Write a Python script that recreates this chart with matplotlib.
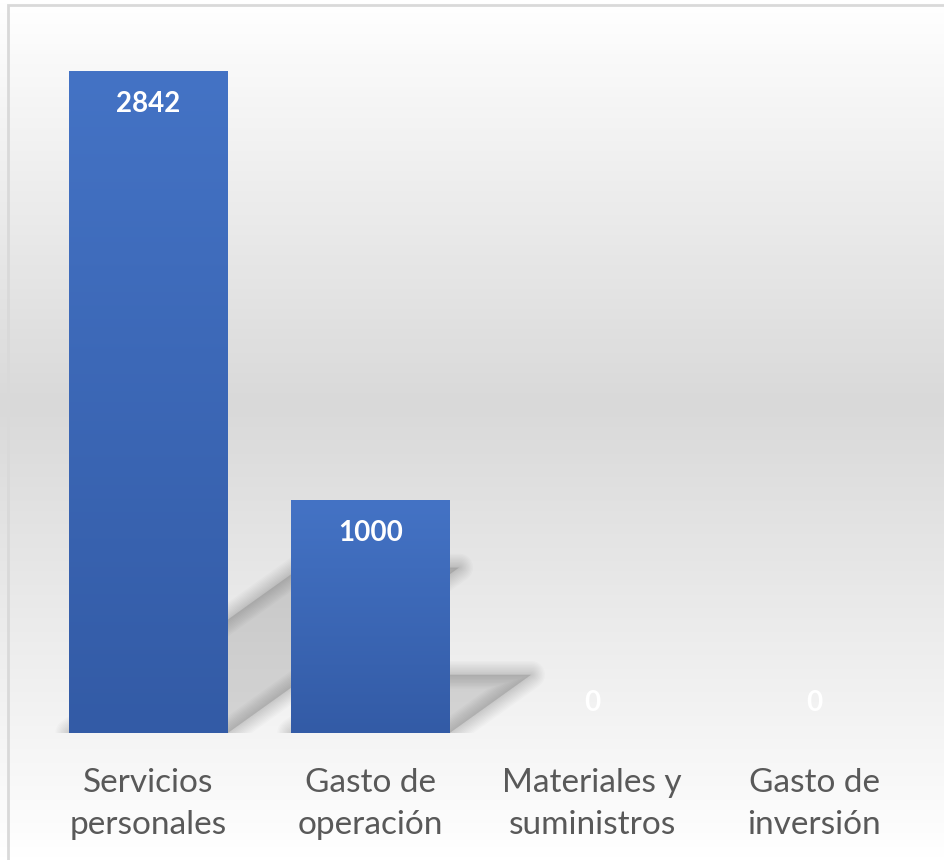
import numpy as np
import matplotlib.pyplot as plt
from matplotlib.colors import LinearSegmentedColormap
from matplotlib.patches import Polygon, Rectangle

categories = ["Servicios\npersonales", "Gasto de\noperación", "Materiales y\nsuministros", "Gasto de\ninversión"]
values = [2842, 1000, 0, 0]

plt.rcParams['font.family'] = ['Lato', 'DejaVu Sans']

W, H, DPI = 945, 860, 100
fig = plt.figure(figsize=(W / DPI, H / DPI), dpi=DPI)

# background: white -> light gray -> white
bg = fig.add_axes([0, 0, 1, 1], zorder=-10)
bg_cmap = LinearSegmentedColormap.from_list("bg", [(0, "#ffffff"), (0.47, "#d9d9d9"), (1, "#ffffff")])
bg.imshow(np.linspace(0, 1, 256).reshape(-1, 1), cmap=bg_cmap, aspect='auto', extent=[0, 1, 0, 1])
bg.axis('off')
fig.patches.append(Rectangle((8 / W, -0.05), 1.1, (H - 5) / H + 0.05, transform=fig.transFigure,
                             fill=False, ec="#d9d9d9", lw=2, zorder=-5))

ax = fig.add_axes([37.6 / W, 127 / H, 887.4 / W, 698.7 / H])
ax.patch.set_alpha(0)
x = np.arange(len(values))
width = 0.715

# perspective shadows, blurred by stacking soft strokes
for xi, v in zip(x, values):
    if v <= 0:
        continue
    dx = v * 3.67e-4
    dy = v * 0.25
    pts = [(xi - width / 2, 0), (xi + width / 2, 0), (xi + width / 2 + dx, dy), (xi - width / 2 + dx, dy)]
    ax.add_patch(Polygon(pts, closed=True, fc="black", ec="none", alpha=0.13, zorder=1))
    for lw in np.arange(2, 22, 2):
        ax.add_patch(Polygon(pts, closed=True, fc="none", ec="black", lw=lw, alpha=0.014,
                             joinstyle='round', zorder=1))

bars = ax.bar(x, values, width=width, color="#4472c4", zorder=2)
bar_cmap = LinearSegmentedColormap.from_list("bar", ["#335ba6", "#4473c5"])
for b in bars:
    if b.get_height() <= 0:
        continue
    im = ax.imshow(np.linspace(0, 1, 256).reshape(-1, 1), cmap=bar_cmap, origin='lower', aspect='auto',
                   extent=[b.get_x(), b.get_x() + b.get_width(), 0, b.get_height()], zorder=3)
    im.set_clip_path(b)
ax.set_xlim(-0.5, len(values) - 0.5)
ax.set_ylim(0, 3000)

for xi, v in zip(x, values):
    off = -33 if v > 0 else 30
    ax.annotate(str(v), (xi, v), xytext=(0, off), textcoords='offset pixels', ha='center', va='center',
                color='white', fontsize=20, fontweight='bold', zorder=4)

ax.set_xticks(x)
ax.set_xticklabels(categories, fontsize=24, color="#595959", linespacing=1.5)
ax.tick_params(axis='x', length=0, pad=25)
ax.set_yticks([])
for s in ax.spines.values():
    s.set_visible(False)

fig.savefig("out.png", dpi=DPI)
